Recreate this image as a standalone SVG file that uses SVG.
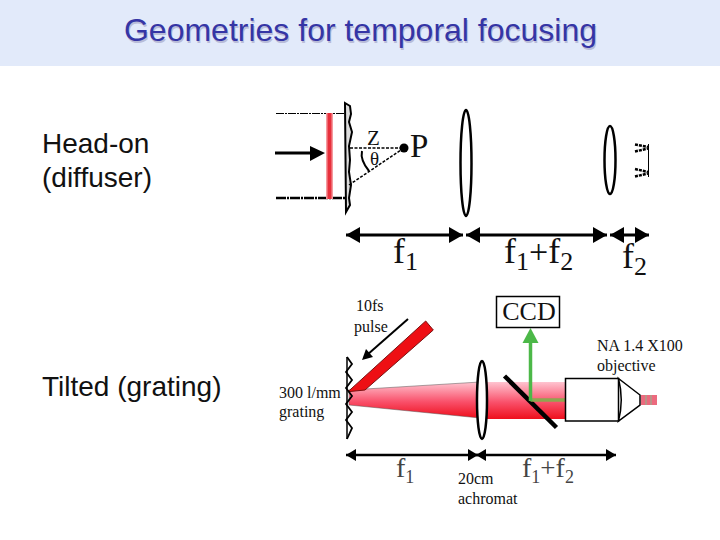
<svg xmlns="http://www.w3.org/2000/svg" width="720" height="540" viewBox="0 0 720 540">
<style>
.t{font-family:"Liberation Sans",Arial,sans-serif;fill:#111}
.s{font-family:"Liberation Serif","Times New Roman",serif;fill:#111}
.sm{font-size:16px}
.f{font-size:36px}
.g{fill:#444}
.lens{fill:#fff;stroke:#000;stroke-width:2.5}
.dim{stroke:#000;stroke-width:3;fill:none;marker-start:url(#ah);marker-end:url(#ah)}
.dim2{stroke:#000;stroke-width:2.5;fill:none;marker-start:url(#ah2);marker-end:url(#ah2)}
</style>
<defs>
<marker id="ah" markerUnits="userSpaceOnUse" markerWidth="15" markerHeight="16" refX="14" refY="8" orient="auto-start-reverse"><path d="M0 0L14 8L0 16Z" fill="#000"/></marker>
<marker id="ah2" markerUnits="userSpaceOnUse" markerWidth="11" markerHeight="12" refX="10" refY="6" orient="auto-start-reverse"><path d="M0 0L10 6L0 12Z" fill="#000"/></marker>
<linearGradient id="beam" x1="0" y1="0" x2="0" y2="1"><stop offset="0" stop-color="#ffc4d0"/><stop offset="0.55" stop-color="#f9506a"/><stop offset="1" stop-color="#ee0f1c"/></linearGradient>
</defs>
<rect width="720" height="66" fill="#e2eafa"/>
<g id="title">
<text x="361.500" y="42.500" text-anchor="middle" font-family="Liberation Sans,Arial,sans-serif" font-size="32" fill="#b9bcd8">Geometries for temporal focusing</text>
<text x="360.500" y="41" text-anchor="middle" font-family="Liberation Sans,Arial,sans-serif" font-size="32" fill="#3535a5">Geometries for temporal focusing</text>
</g>
<g id="labels">
<text class="t" x="42" y="153" font-size="28">Head-on</text>
<text class="t" x="42" y="187" font-size="28">(diffuser)</text>
<text class="t" x="42" y="396" font-size="28">Tilted (grating)</text>
</g>
<g id="headon">
<path d="M276 113.500H345" stroke="#000" stroke-width="1" stroke-dasharray="8 1 2 1"/>
<path d="M276 198H345" stroke="#000" stroke-width="2.500" stroke-dasharray="10 1 2 1"/>
<rect x="326" y="113" width="7" height="86" fill="#f59a9f"/>
<rect x="327.500" y="113" width="4" height="86" fill="#e8303c"/>
<path d="M275 153H310" stroke="#000" stroke-width="3"/>
<path d="M310 146L325 153L310 161Z" fill="#000"/>
<path d="M345 103L350 106L351 114L349 122L352 132L349 146L350 160L349 172L351 185L349 198L350 205L346 212Z" fill="#ddd" stroke="#000" stroke-width="2"/>
<path d="M350 148H404" stroke="#000" stroke-width="1.500" stroke-dasharray="3 1.500"/>
<path d="M349 185L404 148" stroke="#000" stroke-width="1.500" stroke-dasharray="3 1.500"/>
<circle cx="404" cy="148" r="4.500" fill="#000"/>
<path d="M362 151Q360 160 369 171" fill="none" stroke="#000" stroke-width="2"/>
<text class="s" x="367" y="145" font-size="21">Z</text>
<text class="s" x="370" y="165" font-size="19">θ</text>
<text class="s" x="410" y="157" font-size="33">P</text>
<ellipse class="lens" cx="466" cy="163" rx="5.500" ry="53"/>
<ellipse class="lens" cx="610" cy="160" rx="5.500" ry="34"/>
<path d="M635 144.500L648 147M635 151.500L648 148.500M635 169L648 172M635 176.500L648 173.500" stroke="#000" stroke-width="2.500" stroke-dasharray="3 1" fill="none"/>
<path d="M648.500 144V177" stroke="#000" stroke-width="1"/>
</g>
<g id="dimensions-top">
<path class="dim" d="M346 235H463"/>
<path class="dim" d="M466 235H607"/>
<path class="dim" d="M610 235H649"/>
<text class="s f" x="393" y="263">f<tspan font-size="26" dy="7">1</tspan></text>
<text class="s f" x="504" y="263">f<tspan font-size="26" dy="7">1</tspan><tspan font-size="34" dy="-7">+</tspan><tspan>f</tspan><tspan font-size="26" dy="7">2</tspan></text>
<text class="s f" x="622" y="268">f<tspan font-size="26" dy="7">2</tspan></text>
</g>
<g id="tilted">
<text class="s sm" x="356" y="311">10fs</text>
<text class="s sm" x="354" y="332">pulse</text>
<text class="s sm" x="279" y="398">300 l/mm</text>
<text class="s sm" x="279" y="417">grating</text>
<path d="M408 319L367 355" stroke="#000" stroke-width="2"/>
<path d="M362 360L366 349L373 357Z" fill="#000"/>
<path d="M349 390L480 382V418L349 405Z" fill="url(#beam)" stroke="#555" stroke-width="0.500"/>
<rect x="480" y="382" width="86" height="37" fill="url(#beam)"/>
<path d="M425.700 321L433.300 330L365 390L348 391.700Z" fill="#ee0f14" stroke="#7a1010" stroke-width="1"/>
<path d="M347 357L352 364L346 372L352 380L346 388L352 396L346 404L352 412L346 420L352 428L347 439" fill="none" stroke="#000" stroke-width="1.800"/>
<path d="M347 357V439" stroke="#000" stroke-width="1.500"/>
<ellipse class="lens" cx="482" cy="400" rx="5" ry="39" stroke-width="2"/>
<path d="M504.500 376L556.500 427.500" stroke="#000" stroke-width="4.500"/>
<path d="M530.500 400H565" stroke="#8fa64f" stroke-width="3.500"/>
<path d="M530.500 340V401" stroke="#4cb848" stroke-width="3.500"/>
<path d="M530.500 328L538.500 343H522.500Z" fill="#4cb848"/>
<g id="ccd"><rect x="496.500" y="296.500" width="63" height="31" fill="#fff" stroke="#000" stroke-width="1.500"/>
<text class="s" x="529" y="320" font-size="26" text-anchor="middle" fill="#333">CCD</text></g>
<g id="objective">
<path d="M641 395H657V405H641Z" fill="#ec6a7e"/>
<path d="M646 395V405M651 395V405" stroke="#a9a08a" stroke-width="1.500"/>
<path d="M565.500 378.500H618.500V421H565.500Z" fill="#fff" stroke="#000" stroke-width="1.500"/>
<path d="M618.500 378.500L640 395V405L618.500 421Q624 400 618.500 378.500Z" fill="#fff" stroke="#000" stroke-width="1.500"/>
</g>
<text class="s sm" x="597" y="351">NA 1.4 X100</text>
<text class="s sm" x="597" y="371">objective</text>
<text class="s sm" x="458" y="484">20cm</text>
<text class="s sm" x="458" y="504">achromat</text>
</g>
<g id="dimensions-bottom">
<path class="dim2" d="M346 455H478"/>
<path class="dim2" d="M476 455H616"/>
<text class="s g" x="396" y="477" font-size="28">f<tspan font-size="18" dy="6">1</tspan></text>
<text class="s g" x="522" y="477" font-size="28">f<tspan font-size="18" dy="6">1</tspan><tspan font-size="27" dy="-6">+</tspan><tspan>f</tspan><tspan font-size="18" dy="6">2</tspan></text>
</g>
</svg>
